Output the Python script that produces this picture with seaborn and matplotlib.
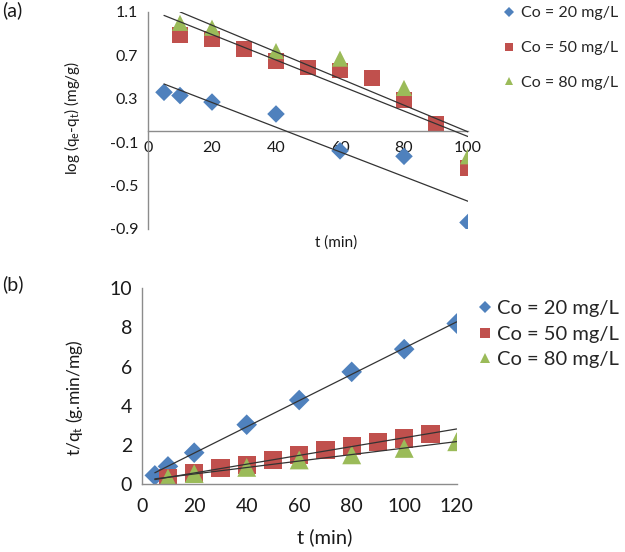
import numpy as np
import pandas as pd
import matplotlib
matplotlib.use("Agg")
import matplotlib.pyplot as plt
from matplotlib.ticker import FormatStrFormatter
import seaborn as sns

# ---- data ----
labels = ["Co = 20 mg/L", "Co = 50 mg/L", "Co = 80 mg/L"]

# (a) pseudo first order : log(qe-qt) vs t
t_a_20 = [5, 10, 20, 40, 60, 80, 100]
y_a_20 = [0.36, 0.33, 0.27, 0.16, -0.18, -0.23, -0.84]
t_a_50 = [10, 20, 30, 40, 50, 60, 70, 80, 90, 100]
y_a_50 = [0.89, 0.85, 0.76, 0.65, 0.59, 0.56, 0.49, 0.29, 0.07, -0.34]
t_a_80 = [10, 20, 40, 60, 80, 100]
y_a_80 = [1.00, 0.955, 0.74, 0.67, 0.40, -0.23]

# (b) pseudo second order : t/qt vs t
t_b_20 = [5, 10, 20, 40, 60, 80, 100, 120]
y_b_20 = [0.44, 0.90, 1.60, 3.03, 4.29, 5.73, 6.89, 8.20]
t_b_50 = [10, 20, 30, 40, 50, 60, 70, 80, 90, 100, 110]
y_b_50 = [0.31, 0.56, 0.82, 0.98, 1.22, 1.47, 1.75, 1.94, 2.16, 2.33, 2.55]
t_b_80 = [10, 20, 40, 60, 80, 100, 120]
y_b_80 = [0.30, 0.53, 0.85, 1.23, 1.49, 1.82, 2.16]

# trendline x-ranges (as drawn by the spreadsheet)
fit_a = [(5, 100), (5, 100), (10, 100)]
fit_b = [(5, 120), (5, 120), (5, 120)]

colors = ["#4F81BD", "#C0504D", "#9BBB59"]
markers = {labels[0]: "D", labels[1]: "s", labels[2]: "^"}
palette = dict(zip(labels, colors))
sizes_a = {labels[0]: 80, labels[1]: 125, labels[2]: 135}
sizes_b = {labels[0]: 110, labels[1]: 175, labels[2]: 185}


def long_df(ts, ys):
    frames = []
    for lab, t, y in zip(labels, ts, ys):
        frames.append(pd.DataFrame({"t": t, "y": y, "series": lab}))
    return pd.concat(frames, ignore_index=True)


dfa = long_df([t_a_20, t_a_50, t_a_80], [y_a_20, y_a_50, y_a_80])
dfb = long_df([t_b_20, t_b_50, t_b_80], [y_b_20, y_b_50, y_b_80])

sns.set_style("white")
plt.rcParams["font.family"] = ["Lato", "DejaVu Sans"]
plt.rcParams["axes.unicode_minus"] = False
plt.rcParams["mathtext.fontset"] = "custom"
plt.rcParams["mathtext.rm"] = "Lato"
plt.rcParams["mathtext.it"] = "Lato"

W, H = 625, 552
fig = plt.figure(figsize=(W / 100, H / 100), dpi=100)


def px_axes(left, top, right, bottom):
    return fig.add_axes([left / W, 1 - bottom / H, (right - left) / W, (bottom - top) / H])


def trend(ax, df, ranges):
    for lab, (x0, x1) in zip(labels, ranges):
        d = df[df["series"] == lab]
        k, b = np.polyfit(d["t"], d["y"], 1)
        xs = np.array([x0, x1])
        ax.plot(xs, k * xs + b, color="#333333", lw=0.9, zorder=3)


def style_axes(ax, fs):
    for s in ["top", "right"]:
        ax.spines[s].set_visible(False)
    for s in ["left", "bottom"]:
        ax.spines[s].set_color("#8c8c8c")
        ax.spines[s].set_linewidth(1.0)
    ax.tick_params(axis="both", direction="out", length=4, width=1.0,
                   color="#8c8c8c", labelsize=fs, labelcolor="#1a1a1a", pad=3)
    ax.grid(False)


def shrink_legend(ax, msize):
    leg = ax.get_legend()
    for h in leg.legend_handles:
        if hasattr(h, "set_markersize"):
            h.set_markersize(msize)
        else:
            h.set_sizes([msize ** 2])


# ---------------- (a) ----------------
ax1 = px_axes(148, 12, 468, 229)
sns.scatterplot(data=dfa, x="t", y="y", hue="series", style="series",
                size="series", sizes=sizes_a,
                palette=palette, markers=markers, linewidth=0,
                ax=ax1, zorder=2)
trend(ax1, dfa, fit_a)
ax1.set_xlim(0, 100)
ax1.set_ylim(-0.9, 1.1)
ax1.set_xticks([0, 20, 40, 60, 80, 100])
ax1.set_yticks([-0.9, -0.5, -0.1, 0.3, 0.7, 1.1])
ax1.yaxis.set_major_formatter(FormatStrFormatter("%.1f"))
ax1.spines["bottom"].set_position(("data", 0))
style_axes(ax1, 11.5)
ax1.set_xlabel("t (min)", fontsize=11, color="#1a1a1a")
ax1.set_ylabel(r"log (q$_\mathregular{e}$-q$_\mathregular{t}$) (mg/g)",
               fontsize=11, color="#1a1a1a")
ax1.xaxis.set_label_coords(0.588, -0.03)
ax1.yaxis.set_label_coords(-0.205, 0.51)
ax1.xaxis.label.set_transform(ax1.transAxes)
sns.move_legend(ax1, loc="upper left", bbox_to_anchor=(503 / W, 1 - 6 / H),
                bbox_transform=fig.transFigure, frameon=False, title=None,
                fontsize=11.5, handlelength=0.7, handletextpad=0.4,
                labelspacing=1.3, borderpad=0, borderaxespad=0)
shrink_legend(ax1, 5.5)

# ---------------- (b) ----------------
ax2 = px_axes(141.7, 288.3, 456.7, 484)
sns.scatterplot(data=dfb, x="t", y="y", hue="series", style="series",
                size="series", sizes=sizes_b,
                palette=palette, markers=markers, linewidth=0,
                ax=ax2, zorder=2)
trend(ax2, dfb, fit_b)
ax2.set_xlim(0, 120)
ax2.set_ylim(0, 10)
ax2.set_xticks(np.arange(0, 121, 20))
ax2.set_yticks(np.arange(0, 11, 2))
style_axes(ax2, 14)
ax2.tick_params(axis="x", pad=6)
ax2.set_xlabel("t (min)", fontsize=14.5, color="#1a1a1a")
ax2.set_ylabel(r"t/q$_\mathregular{t}$ (g.min/mg)", fontsize=12.5, color="#1a1a1a")
ax2.xaxis.set_label_coords(0.582, -0.225)
ax2.yaxis.set_label_coords(-0.18, 0.44)
sns.move_legend(ax2, loc="upper left", bbox_to_anchor=(479 / W, 1 - 300 / H),
                bbox_transform=fig.transFigure, frameon=False, title=None,
                fontsize=14.5, handlelength=0.6, handletextpad=0.3,
                labelspacing=0.42, borderpad=0, borderaxespad=0)
shrink_legend(ax2, 6.5)

fig.text(2 / W, 1 - 1 / H, "(a)", fontsize=14, va="top", ha="left", color="#1a1a1a")
fig.text(2 / W, 1 - 275 / H, "(b)", fontsize=14, va="top", ha="left", color="#1a1a1a")

fig.savefig("out.png", dpi=100)
